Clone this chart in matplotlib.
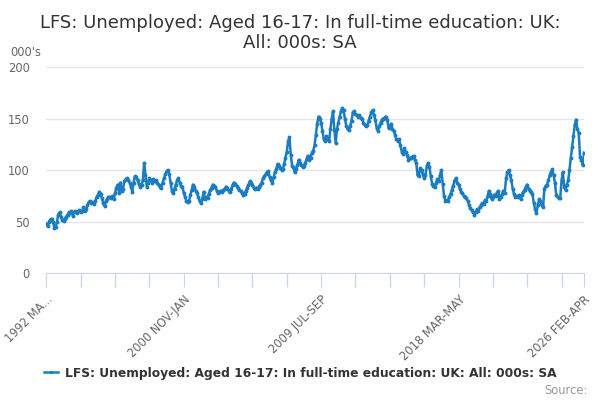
import numpy as np
import matplotlib
matplotlib.use("Agg")
import matplotlib.pyplot as plt

# ---------------------------------------------
# data: rolling 3-month periods, 1992 MAR-MAY .. 2026 FEB-APR (000s)
values = [
    48, 46, 50, 52, 53, 50, 44, 45, 50, 57, 59, 55,
    52, 51, 53, 55, 57, 59, 58, 60, 56, 59, 60, 58,
    60, 61, 59, 60, 64, 60, 62, 66, 69, 70, 68, 69,
    67, 70, 74, 76, 79, 77, 73, 68, 65, 70, 72, 74,
    74, 73, 75, 72, 78, 83, 86, 78, 88, 80, 82, 89,
    91, 92, 90, 88, 84, 79, 88, 94, 93, 90, 87, 84,
    86, 90, 107, 95, 84, 88, 92, 90, 88, 91, 89, 90,
    88, 86, 84, 83, 88, 92, 96, 99, 100, 96, 88, 80,
    78, 82, 86, 90, 92, 88, 85, 84, 78, 74, 70, 69,
    70, 76, 81, 86, 84, 80, 78, 74, 70, 68, 72, 79,
    72, 74, 73, 77, 81, 83, 86, 85, 84, 80, 78, 79,
    80, 79, 81, 82, 84, 83, 80, 79, 82, 86, 88, 87,
    85, 83, 81, 80, 78, 76, 77, 80, 83, 86, 89, 88,
    86, 83, 82, 83, 82, 84, 86, 88, 92, 94, 96, 98,
    99, 93, 90, 88, 93, 98, 101, 106, 104, 102, 100, 101,
    106, 112, 118, 128, 132, 115, 104, 103, 98, 101, 105, 110,
    107, 105, 103, 104, 107, 111, 114, 110, 112, 117, 119, 124,
    134, 145, 152, 150, 146, 138, 130, 128, 133, 130, 128, 140,
    150, 157, 139, 126, 140, 146, 152, 157, 160, 158, 150, 143,
    140, 139, 143, 148, 156, 157, 154, 153, 152, 153, 151, 150,
    146, 144, 143, 144, 148, 152, 156, 158, 153, 149, 141, 138,
    143, 146, 149, 150, 151, 152, 149, 141, 143, 145, 140, 138,
    134, 130, 128, 130, 124, 118, 116, 121, 118, 115, 110, 112,
    112, 113, 114, 110, 107, 95, 94, 102, 100, 96, 92, 95,
    104, 107, 103, 94, 87, 85, 84, 88, 91, 89, 95, 100,
    87, 75, 70, 71, 70, 74, 77, 81, 85, 90, 92, 88,
    86, 82, 79, 78, 75, 74, 73, 70, 66, 63, 61, 59,
    57, 59, 62, 60, 64, 66, 68, 67, 71, 70, 75, 80,
    77, 72, 74, 76, 75, 78, 80, 72, 74, 77, 80, 78,
    92, 98, 100, 95, 90, 82, 77, 74, 75, 74, 76, 72,
    76, 79, 81, 84, 86, 82, 80, 79, 77, 68, 62, 58,
    66, 72, 70, 66, 64, 82, 85, 86, 90, 95, 98, 101,
    95, 88, 76, 74, 73, 73, 90, 98, 84, 81, 86, 90,
    100, 112, 122, 133, 144, 149, 140, 136, 113, 110, 105, 117,
]

start_year, start_month = 1992, 3
months = ["JAN", "FEB", "MAR", "APR", "MAY", "JUN",
          "JUL", "AUG", "SEP", "OCT", "NOV", "DEC"]

def period_name(k):
    m0 = start_month - 1 + k
    y = start_year + m0 // 12
    m = m0 % 12
    return f"{y} {months[m]}-{months[(m + 2) % 12]}"

periods = [period_name(k) for k in range(len(values))]

label_periods = ["1992 MAR-MAY", "2000 NOV-JAN", "2009 JUL-SEP",
                 "2018 MAR-MAY", "2026 FEB-APR"]
label_texts = ["1992 MA...", "2000 NOV-JAN", "2009 JUL-SEP",
               "2018 MAR-MAY", "2026 FEB-APR"]

title = "LFS: Unemployed: Aged 16-17: In full-time education: UK:\nAll: 000s: SA"
series_name = "LFS: Unemployed: Aged 16-17: In full-time education: UK: All: 000s: SA"

# ---------------------------------------------
# plot
line_col = "#1a7cc1"
axis_col = "#ccd6eb"
grid_col = "#e6e6e6"
text_col = "#666666"

fig = plt.figure(figsize=(6, 4), dpi=100)
ax = fig.add_axes([46.4 / 600, 1 - 273.3 / 400, 537.6 / 600, 206.3 / 400])

x = np.arange(len(values))
ax.plot(x, values, color=line_col, lw=1.8, marker="o", ms=2.8,
        markeredgewidth=0, zorder=3, label=series_name)

ax.set_xlim(0, len(values) - 1)
ax.set_ylim(0, 200)
ax.set_yticks([0, 50, 100, 150, 200])
ax.grid(axis="y", color=grid_col, lw=1)
ax.set_axisbelow(True)

for s in ["top", "right", "left"]:
    ax.spines[s].set_visible(False)
ax.spines["bottom"].set_color(axis_col)

minor = list(range(0, len(values), 26)) + [len(values) - 1]
ax.set_xticks(minor, minor=True)
ax.tick_params(axis="x", which="minor", length=10, color=axis_col, width=1)
ax.set_xticks([periods.index(p) for p in label_periods])
ax.set_xticklabels(label_texts, rotation=45, ha="right", va="top",
                   rotation_mode="anchor", fontsize=8.3, color=text_col)
ax.tick_params(axis="x", which="major", length=10, color=axis_col, pad=4)
ax.tick_params(axis="y", length=0, labelsize=8.3, labelcolor=text_col, pad=12)

fig.text(0.5, 0.965, title, ha="center", va="top", fontsize=13, color="#333333",
         linespacing=1.15)
fig.text(10 / 600, 1 - 52 / 400, "000's", fontsize=8.3, color=text_col, va="center")

leg = fig.legend(loc="center", bbox_to_anchor=(0.5, 1 - 373 / 400), frameon=False,
                 prop={"weight": "bold", "size": 8.8}, handlelength=1.2,
                 handletextpad=0.5, markerscale=0.8)
for t in leg.get_texts():
    t.set_color("#333333")

fig.text(588 / 600, 1 - 391 / 400, "Source:", ha="right", va="center",
         fontsize=8.3, color="#999999")

fig.savefig("out.png", dpi=100)
